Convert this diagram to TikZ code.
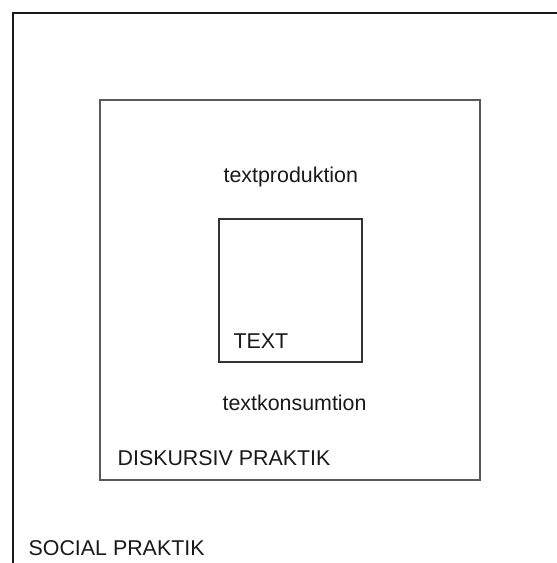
\documentclass[tikz,border=0pt]{standalone}
\usepackage{fontspec}
\setmainfont{Liberation Sans}
\usetikzlibrary{positioning}

\begin{document}
\begin{tikzpicture}[
            x = 0.5pt, y = -0.5pt, % one unit per pixel
            font = \fontsize{10.7}{12}\selectfont,
            every node/.style = {inner sep = 0pt},
            semithick % line style
        ]

        \tikzstyle{praktik}=[
            draw = black!65,
            line width = 1.1pt,
            minimum size = 190pt
        ]
        \tikzstyle{textbox}=[
            draw = black!80,
            line width = 0.8pt,
            minimum size = 71.5pt
        ]
        \tikzstyle{label}=[
            text = black!90,
            anchor = base west
        ]

        \useasboundingbox (0,0) rectangle (557,563);

        % social praktik (open frame)
        \draw[black!90, line width = 1pt] (12.5,563) -- (12.5,12.5) -- (557,12.5);

        \node[praktik] (diskursiv) at (290,290) {};
        \node[textbox] (text) at (290.5,290.5) {};

        \node[label] (prod) at (223,182) {textproduktion};
        \node[label] (kons) at (222,410) {textkonsumtion};
        \node[label] (textlbl) at (233,348) {TEXT};
        \node[label] (disklbl) at (117,465) {DISKURSIV PRAKTIK};
        \node[label] (soclbl) at (28,555) {SOCIAL PRAKTIK};

    \end{tikzpicture}
\end{document}
